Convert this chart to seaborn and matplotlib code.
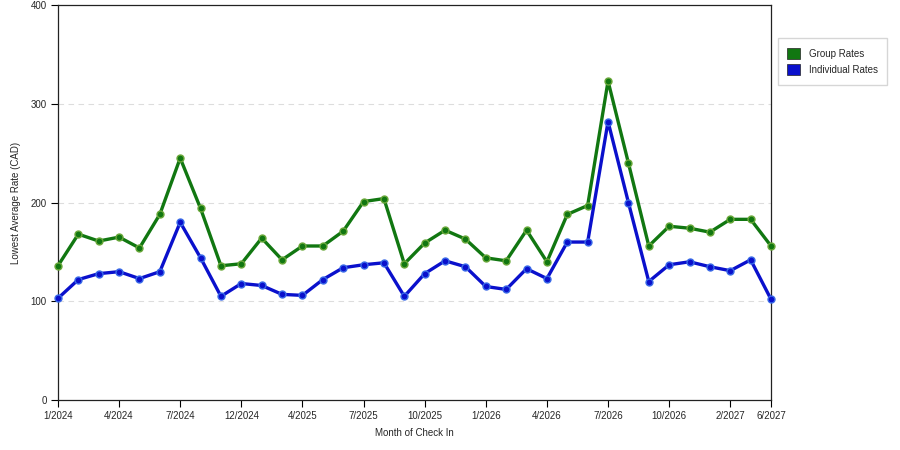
import pandas as pd
import matplotlib
matplotlib.use("Agg")
import matplotlib.pyplot as plt
import seaborn as sns
from matplotlib.patches import Patch

# month of check-in for each point (axis is categorical, some months absent)
months = ['1/2024', '2/2024', '3/2024', '4/2024', '5/2024', '6/2024',
          '7/2024', '8/2024', '9/2024', '12/2024', '1/2025', '2/2025',
          '4/2025', '5/2025', '6/2025', '7/2025', '8/2025', '9/2025',
          '10/2025', '11/2025', '12/2025', '1/2026', '2/2026', '3/2026',
          '4/2026', '5/2026', '6/2026', '7/2026', '8/2026', '9/2026',
          '10/2026', '11/2026', '12/2026', '2/2027', '4/2027', '6/2027']

group_rates = [136, 168, 161, 165, 154, 188, 245, 194, 136, 138, 164, 142,
               156, 156, 171, 201, 204, 138, 159, 172, 163, 144, 141, 172,
               140, 188, 197, 323, 240, 156, 176, 174, 170, 183, 183, 156]

individual_rates = [103, 122, 128, 130, 123, 130, 180, 144, 105, 118, 116, 107,
                    106, 122, 134, 137, 139, 105, 128, 141, 135, 115, 112, 133,
                    123, 160, 160, 282, 200, 120, 137, 140, 135, 131, 142, 102]

tick_every = 3

df = pd.DataFrame({
    'idx': list(range(len(months))) * 2,
    'rate': group_rates + individual_rates,
    'series': ['Group Rates'] * len(months) + ['Individual Rates'] * len(months),
})

sns.set_style("white")
plt.rcParams['font.family'] = ['Liberation Sans', 'DejaVu Sans']

colors = {'Group Rates': '#117711', 'Individual Rates': '#0a10cc'}
edge = {'Group Rates': '#6aa83a', 'Individual Rates': '#3a6ae8'}

fig = plt.figure(figsize=(9, 4.5), dpi=100)
ax = fig.add_axes([0.0644, 0.111, 0.7923, 0.8778])

for name in ['Group Rates', 'Individual Rates']:
    sub = df[df['series'] == name]
    sns.lineplot(data=sub, x='idx', y='rate', ax=ax, color=colors[name],
                 linewidth=2.4, marker='o', markersize=5,
                 markerfacecolor=colors[name], markeredgecolor=edge[name],
                 markeredgewidth=1.0, legend=False, zorder=3, clip_on=False)

ax.set_xlim(0, len(months) - 1)
ax.set_ylim(0, 400)
ax.set_yticks([0, 100, 200, 300, 400])
ticks = list(range(0, len(months), tick_every))
if ticks[-1] != len(months) - 1:
    ticks.append(len(months) - 1)
ax.set_xticks(ticks)
ax.set_xticklabels([months[i] for i in ticks])
ax.tick_params(axis='both', labelsize=7, length=5, width=0.8,
               direction='out', color='black', pad=3, bottom=True, left=True)

for y in [100, 200, 300]:
    ax.axhline(y, color='#dddddd', linestyle=(0, (5, 4)), linewidth=0.8, zorder=1)

for s in ax.spines.values():
    s.set_color('#222222')
    s.set_linewidth(0.9)

ax.set_xlabel('Month of Check In', fontsize=7, labelpad=5)
ax.set_ylabel('Lowest Average Rate (CAD)', fontsize=7, labelpad=7)

handles = [Patch(facecolor=colors[n], edgecolor='#222222', linewidth=0.5, label=n)
           for n in ['Group Rates', 'Individual Rates']]
fig.legend(handles=handles, loc='upper left', bbox_to_anchor=(0.864, 0.915),
           fontsize=7, frameon=True, fancybox=False, edgecolor='#cccccc',
           handlelength=1.3, handleheight=1.4, handletextpad=0.9,
           borderpad=1.0, labelspacing=0.5, borderaxespad=0)

fig.savefig('out.png', dpi=100)
